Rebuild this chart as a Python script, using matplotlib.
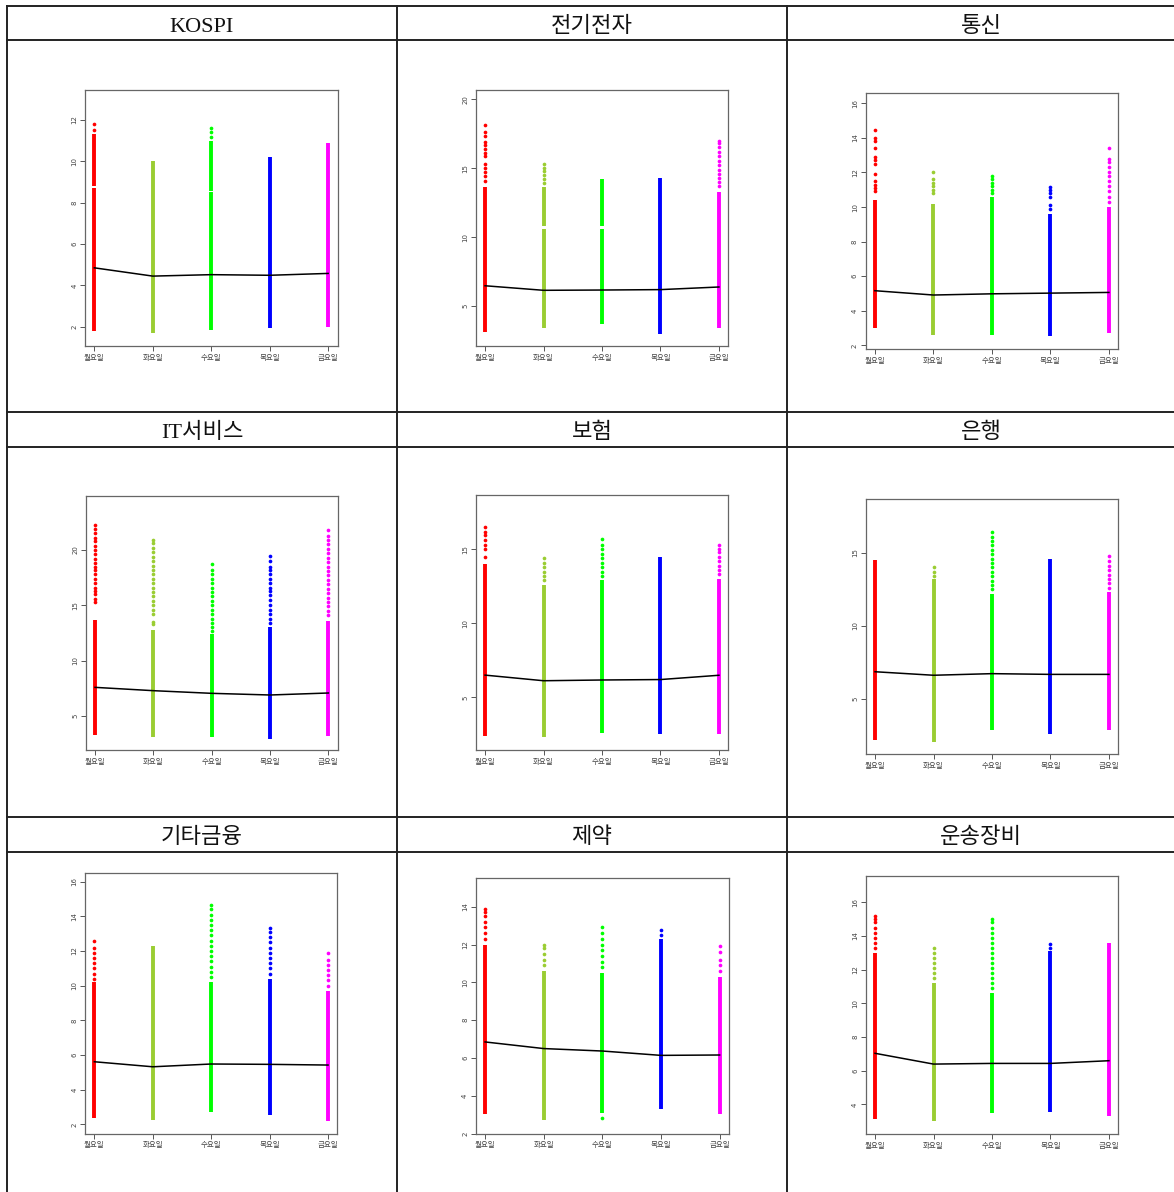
import matplotlib
matplotlib.use("Agg")
import matplotlib.pyplot as plt
from matplotlib.lines import Line2D

plt.rcParams['font.family'] = ['DejaVu Sans', 'Noto Sans CJK KR']

W, H = 1174, 1192

days = ['월요일', '화요일', '수요일', '목요일', '금요일']
day_colors = ['#FF0000', '#9ACD32', '#00FF00', '#0000FF', '#FF00FF']

titles = ['KOSPI', '전기전자', '통신',
          'IT서비스', '보험', '은행',
          '기타금융', '제약', '운송장비']

# y range and ticks of each panel
ylims = [(1.07, 13.45), (2.1, 20.67), (1.77, 16.58),
         (1.93, 24.88), (1.44, 18.67), (1.27, 18.64),
         (1.46, 16.48), (2.0, 15.5), (2.22, 17.56)]
yticks = [[2, 4, 6, 8, 10, 12], [5, 10, 15, 20], [2, 4, 6, 8, 10, 12, 14, 16],
          [5, 10, 15, 20], [5, 10, 15], [5, 10, 15],
          [2, 4, 6, 8, 10, 12, 14, 16], [2, 4, 6, 8, 10, 12, 14], [4, 6, 8, 10, 12, 14, 16]]

# mean per weekday
means = [[4.85, 4.45, 4.52, 4.49, 4.58],
         [6.47, 6.14, 6.16, 6.19, 6.38],
         [5.16, 4.91, 4.98, 5.02, 5.06],
         [7.59, 7.29, 7.05, 6.90, 7.08],
         [6.50, 6.12, 6.17, 6.20, 6.49],
         [6.88, 6.64, 6.75, 6.70, 6.70],
         [5.61, 5.32, 5.48, 5.46, 5.42],
         [6.85, 6.50, 6.37, 6.14, 6.16],
         [7.03, 6.39, 6.43, 6.43, 6.59]]

# densely packed stretches of points (lo, hi) per weekday
spans = [
    [[(1.8, 8.7), (8.8, 11.3)], [(1.7, 10.0)], [(1.85, 8.5), (8.56, 11.0)], [(1.95, 10.2)], [(2.0, 10.9)]],
    [[(3.1, 13.6)], [(3.4, 10.6), (10.8, 13.6)], [(3.7, 10.6), (10.8, 14.2)], [(3.0, 14.3)], [(3.4, 13.3)]],
    [[(3.0, 10.4)], [(2.6, 10.2)], [(2.6, 10.6)], [(2.55, 9.6)], [(2.7, 10.0)]],
    [[(3.3, 13.7)], [(3.1, 12.8)], [(3.1, 12.4)], [(2.9, 13.0)], [(3.2, 13.6)]],
    [[(2.4, 14.0)], [(2.3, 12.6)], [(2.6, 12.9)], [(2.5, 14.5)], [(2.5, 13.0)]],
    [[(2.2, 14.5)], [(2.1, 13.2)], [(2.9, 12.2)], [(2.6, 14.6)], [(2.9, 12.3)]],
    [[(2.35, 10.2)], [(2.25, 12.3)], [(2.7, 10.2)], [(2.55, 10.4)], [(2.2, 9.7)]],
    [[(3.05, 12.0)], [(2.7, 10.6)], [(3.1, 10.5)], [(3.3, 12.3)], [(3.05, 10.3)]],
    [[(3.1, 13.0)], [(3.0, 11.2)], [(3.5, 10.6)], [(3.55, 13.1)], [(3.3, 13.6)]],
]

# scattered single points per weekday
dots = [
    [[11.5, 11.8], [], [11.2, 11.4, 11.6], [], []],
    [[14.1, 14.4, 14.7, 15.0, 15.3, 15.9, 16.1, 16.4, 16.7, 16.9, 17.3, 17.6, 18.1],
     [13.9, 14.2, 14.5, 14.8, 15.0, 15.3],
     [],
     [],
     [13.7, 14.0, 14.3, 14.6, 14.9, 15.2, 15.5, 15.9, 16.2, 16.5, 16.8, 17.0]],
    [[10.9, 11.1, 11.3, 11.5, 11.9, 12.5, 12.7, 12.9, 13.4, 13.8, 14.0, 14.45],
     [10.8, 11.0, 11.2, 11.4, 11.6, 12.0],
     [10.8, 11.0, 11.2, 11.4, 11.6, 11.8],
     [9.9, 10.1, 10.6, 10.8, 11.0, 11.15],
     [10.3, 10.6, 10.9, 11.2, 11.5, 11.8, 12.0, 12.3, 12.6, 12.8, 13.4]],
    [[15.3, 15.6, 16.0, 16.3, 16.6, 17.0, 17.4, 17.8, 18.2, 18.5, 18.8, 19.2, 19.6, 20.0, 20.4, 20.8, 21.1, 21.5, 21.9, 22.3],
     [13.3, 13.5, 14.2, 14.6, 15.0, 15.4, 15.8, 16.2, 16.6, 17.0, 17.4, 17.8, 18.2, 18.6, 19.0, 19.4, 19.8, 20.2, 20.6, 20.9],
     [12.7, 13.0, 13.4, 13.8, 14.2, 14.6, 15.0, 15.4, 15.8, 16.2, 16.6, 17.0, 17.4, 17.8, 18.2, 18.7],
     [13.4, 13.8, 14.2, 14.6, 15.0, 15.5, 15.9, 16.3, 16.6, 17.0, 17.4, 17.8, 18.2, 18.5, 19.0, 19.5],
     [14.1, 14.5, 14.9, 15.3, 15.7, 16.1, 16.5, 16.9, 17.3, 17.7, 18.1, 18.5, 18.9, 19.3, 19.7, 20.1, 20.5, 20.9, 21.3, 21.8]],
    [[14.5, 15.0, 15.3, 15.6, 16.0, 16.2, 16.5],
     [12.9, 13.2, 13.5, 13.8, 14.1, 14.4],
     [13.2, 13.5, 13.8, 14.1, 14.4, 14.7, 15.0, 15.3, 15.7],
     [],
     [13.3, 13.6, 13.9, 14.2, 14.5, 14.8, 15.0, 15.3]],
    [[],
     [13.4, 13.7, 14.0],
     [12.5, 12.8, 13.1, 13.4, 13.7, 14.0, 14.3, 14.6, 14.9, 15.2, 15.5, 15.8, 16.1, 16.4],
     [],
     [12.6, 12.9, 13.2, 13.5, 13.8, 14.1, 14.4, 14.8]],
    [[10.4, 10.7, 11.0, 11.3, 11.6, 11.9, 12.2, 12.6],
     [],
     [10.5, 10.8, 11.1, 11.4, 11.7, 12.0, 12.3, 12.6, 12.9, 13.2, 13.5, 13.8, 14.1, 14.4, 14.65],
     [10.7, 11.0, 11.3, 11.6, 11.9, 12.2, 12.5, 12.8, 13.1, 13.3],
     [10.0, 10.3, 10.6, 10.9, 11.2, 11.5, 11.9]],
    [[12.3, 12.6, 12.9, 13.2, 13.5, 13.7, 13.9],
     [10.9, 11.2, 11.5, 11.8, 12.0],
     [2.85, 10.8, 11.1, 11.4, 11.7, 12.0, 12.3, 12.6, 12.9],
     [12.5, 12.75],
     [10.6, 10.9, 11.2, 11.6, 11.9]],
    [[13.3, 13.6, 13.9, 14.2, 14.5, 14.8, 15.0, 15.2],
     [11.5, 11.8, 12.1, 12.4, 12.7, 13.0, 13.3],
     [10.9, 11.2, 11.5, 11.8, 12.1, 12.4, 12.7, 13.0, 13.3, 13.6, 13.9, 14.2, 14.5, 14.8, 15.0],
     [13.3, 13.5],
     []],
]

# panel boxes in pixels: left, top, right, bottom
boxes = [(85, 90, 337.5, 346), (475.7, 90, 728.3, 346), (865.5, 93.3, 1118.3, 349.3),
         (85.7, 496, 337.7, 750), (475.7, 495, 728.3, 750), (865.7, 499.3, 1118.3, 754),
         (85, 873.3, 337.4, 1133.7), (475.7, 878.3, 729, 1133.7), (865.7, 876, 1118.3, 1134.3)]


def px_rect(l, t, r, b):
    return [l / W, 1 - b / H, (r - l) / W, (b - t) / H]


fig = plt.figure(figsize=(W / 100, H / 100), dpi=100)
fig.patch.set_facecolor('white')

# table grid
grid_kw = dict(color='#222222', lw=1.4, transform=fig.transFigure)
col_x = [7, 397, 787]
row_y = [6, 40, 412, 447, 817, 852]
for x in col_x:
    fig.add_artist(Line2D([x / W, x / W], [1 - 6 / H, 0], **grid_kw))
for y in row_y:
    fig.add_artist(Line2D([7 / W, 1], [1 - y / H, 1 - y / H], **grid_kw))

col_centers = [202, 592, 981]
title_base = [32, 438, 843]

x = list(range(1, 6))
for i, title in enumerate(titles):
    r, c = divmod(i, 3)
    fig.text(col_centers[c] / W, 1 - title_base[r] / H, title, ha='center', va='baseline',
             fontsize=16, family=['Liberation Serif', 'Noto Sans CJK KR'], color='#111111')

    ax = fig.add_axes(px_rect(*boxes[i]))
    for k in range(5):
        for lo, hi in spans[i][k]:
            ax.vlines(x[k], lo, hi, colors=day_colors[k], lw=2.8)
        if dots[i][k]:
            ax.scatter([x[k]] * len(dots[i][k]), dots[i][k], s=7, color=day_colors[k],
                       linewidths=0, zorder=3)
    ax.plot(x, means[i], color='black', lw=1.1, zorder=4)

    ax.set_xlim(0.84, 5.16)
    ax.set_ylim(*ylims[i])
    ax.set_xticks(x)
    ax.set_xticklabels(days, fontsize=5.4, color='#444444')
    ax.set_yticks(yticks[i])
    ax.set_yticklabels([str(v) for v in yticks[i]], fontsize=5, color='#444444',
                       rotation=90, va='center')
    ax.tick_params(length=3.5, width=0.7, color='#555555', pad=2)
    for s in ax.spines.values():
        s.set_color('#666666')
        s.set_linewidth(0.9)

fig.savefig('out.png', dpi=100, facecolor='white')
